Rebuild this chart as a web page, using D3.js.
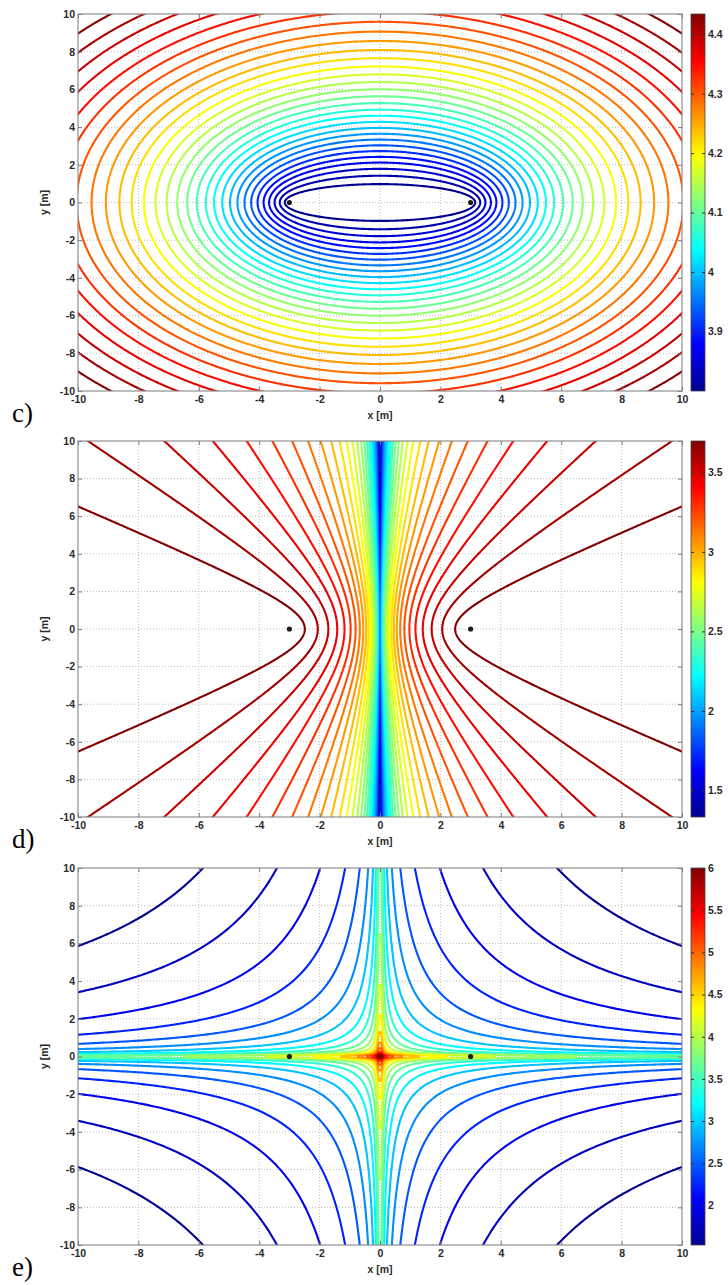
<!DOCTYPE html>
<html>
<head>
<meta charset="utf-8">
<script src="https://cdn.jsdelivr.net/npm/d3@7"></script>
<style>
  body { margin: 0; background: #fff; }
  text { font-family: "Liberation Sans", Arial, sans-serif; }
</style>
</head>
<body>
<div id="chart"></div>
<script>
var W = 728, H = 1285;

// sensor positions on the x axis [m]
var sensorX = [-3, 3];
var axisTicks = [-10, -8, -6, -4, -2, 0, 2, 4, 6, 8, 10];

// contour levels (colorbar units)
var levelsC = [3.800, 3.822, 3.844, 3.866, 3.887, 3.909, 3.931, 3.953, 3.975, 3.997,
               4.019, 4.041, 4.062, 4.084, 4.106, 4.128, 4.150, 4.172, 4.194, 4.216,
               4.237, 4.259, 4.281, 4.303, 4.325, 4.347, 4.369, 4.391, 4.412, 4.434];
var barTicksC = [3.9, 4, 4.1, 4.2, 4.3, 4.4];

var levelsD = [1.333, 1.415, 1.496, 1.578, 1.659, 1.741, 1.822, 1.904, 1.985, 2.067,
               2.148, 2.230, 2.311, 2.393, 2.474, 2.556, 2.637, 2.719, 2.800, 2.882,
               2.963, 3.045, 3.126, 3.208, 3.289, 3.371, 3.452, 3.534, 3.615, 3.697];
var barTicksD = [1.5, 2, 2.5, 3, 3.5];

var levelsE = [1.530, 1.765, 2.001, 2.236, 2.471, 2.707, 2.942, 3.177, 3.412, 3.648,
               3.883, 4.118, 4.354, 4.589, 4.824, 5.060, 5.295, 5.530, 5.765, 6.001];
var barTicksE = [2, 2.5, 3, 3.5, 4, 4.5, 5, 5.5, 6];

// measured quantity for each panel (log10 of path in mm)
function dist(px, py, sx) { return Math.hypot(px - sx, py); }
var fieldC = (px, py) => 3 + Math.log10(dist(px, py, sensorX[0]) + dist(px, py, sensorX[1]));
var fieldD = (px, py) => 3 + Math.log10(Math.abs(dist(px, py, sensorX[0]) - dist(px, py, sensorX[1])));
var fieldE = (px, py) => 3.298 - Math.log10(Math.abs(px * py));

var panels = [
  {label: 'c)', top: 14,  bottom: 391,  field: fieldC, levels: levelsC, barTicks: barTicksC, step: 0.05, pad: 0.5},
  {label: 'd)', top: 441, bottom: 817,  field: fieldD, levels: levelsD, barTicks: barTicksD, step: 0.05, pad: 0.5},
  {label: 'e)', top: 868, bottom: 1245, field: fieldE, levels: levelsE, barTicks: barTicksE, step: 0.08, pad: 0.48}
];

// matlab jet
var jet = d3.scaleLinear()
  .domain([0, 0.125, 0.375, 0.625, 0.875, 1])
  .range(['#00008f', '#0000ff', '#00ffff', '#ffff00', '#ff0000', '#800000'])
  .clamp(true);

var svg = d3.select('#chart')
  .append('svg')
  .attr('width', W)
  .attr('height', H);

svg.append('rect').attr('width', W).attr('height', H).attr('fill', '#fff');

var defs = svg.append('defs');
var grad = defs.append('linearGradient')
  .attr('id', 'jetGrad')
  .attr('x1', 0).attr('y1', 1).attr('x2', 0).attr('y2', 0);
grad.selectAll('stop')
  .data(jet.domain())
  .enter()
  .append('stop')
  .attr('offset', d => d)
  .attr('stop-color', d => jet(d));

var xScale = d3.scaleLinear().domain([-10, 10]).range([78, 682]);
var barX = 691, barW = 14;
var textColor = '#2a2a2a';

panels.forEach((p, idx) => {
  var yScale = d3.scaleLinear().domain([-10, 10]).range([p.bottom, p.top]);
  var g = svg.append('g');

  defs.append('clipPath')
    .attr('id', 'clip' + idx)
    .append('rect')
    .attr('x', xScale(-10)).attr('y', p.top)
    .attr('width', xScale(10) - xScale(-10))
    .attr('height', p.bottom - p.top);

  // dotted grid
  var inner = axisTicks.slice(1, -1);
  g.selectAll('.gx')
    .data(inner)
    .enter()
    .append('line')
    .attr('x1', d => xScale(d)).attr('x2', d => xScale(d))
    .attr('y1', p.top).attr('y2', p.bottom)
    .attr('stroke', '#bdbdbd')
    .attr('stroke-dasharray', '1,2');
  g.selectAll('.gy')
    .data(inner)
    .enter()
    .append('line')
    .attr('y1', d => yScale(d)).attr('y2', d => yScale(d))
    .attr('x1', xScale(-10)).attr('x2', xScale(10))
    .attr('stroke', '#bdbdbd')
    .attr('stroke-dasharray', '1,2');

  // sample the field on a grid a bit larger than the axes
  var lo = -10 - p.pad;
  var n = Math.round((20 + 2 * p.pad) / p.step);
  var values = new Float64Array(n * n);
  for (var j = 0; j < n; j++) {
    var gy = lo + (j + 0.5) * p.step;
    for (var i = 0; i < n; i++) {
      values[j * n + i] = p.field(lo + (i + 0.5) * p.step, gy);
    }
  }
  var contours = d3.contours().size([n, n]).thresholds(p.levels)(values);

  var proj = d3.geoTransform({
    point: function(cx, cy) {
      this.stream.point(xScale(lo + cx * p.step), yScale(lo + cy * p.step));
    }
  });
  var path = d3.geoPath(proj);
  var norm = d3.scaleLinear().domain(d3.extent(p.levels)).range([0, 1]);

  g.append('g')
    .attr('clip-path', 'url(#clip' + idx + ')')
    .selectAll('path')
    .data(contours)
    .enter()
    .append('path')
    .attr('d', path)
    .attr('fill', 'none')
    .attr('stroke', d => jet(norm(d.value)))
    .attr('stroke-width', 2.1)
    .attr('stroke-linejoin', 'round');

  // sensors
  g.selectAll('.sensor')
    .data(sensorX)
    .enter()
    .append('circle')
    .attr('cx', d => xScale(d))
    .attr('cy', yScale(0))
    .attr('r', 2.6)
    .attr('fill', '#1e1e1e');

  // axes
  var fmt = d => String(d);
  var bottomAxis = g.append('g')
    .attr('transform', `translate(0, ${p.bottom})`)
    .call(d3.axisBottom(xScale).tickValues(axisTicks).tickSize(-4).tickPadding(5).tickFormat(fmt));
  var leftAxis = g.append('g')
    .attr('transform', `translate(${xScale(-10)}, 0)`)
    .call(d3.axisLeft(yScale).tickValues(axisTicks).tickSize(-4).tickPadding(3).tickFormat(fmt));
  var topAxis = g.append('g')
    .attr('transform', `translate(0, ${p.top})`)
    .call(d3.axisTop(xScale).tickValues(axisTicks).tickSize(-4).tickFormat(''));
  var rightAxis = g.append('g')
    .attr('transform', `translate(${xScale(10)}, 0)`)
    .call(d3.axisRight(yScale).tickValues(axisTicks).tickSize(-4).tickFormat(''));

  [bottomAxis, leftAxis, topAxis, rightAxis].forEach(a => {
    a.select('.domain').remove();
    a.selectAll('line').attr('stroke', '#7a7a7a');
    a.selectAll('text').attr('fill', textColor).style('font-size', '10.5px').style('font-weight', 'bold');
  });

  g.append('rect')
    .attr('x', xScale(-10)).attr('y', p.top)
    .attr('width', xScale(10) - xScale(-10))
    .attr('height', p.bottom - p.top)
    .attr('fill', 'none')
    .attr('stroke', '#858585')
    .attr('stroke-width', 1.1);

  g.append('text')
    .attr('x', xScale(0))
    .attr('y', p.bottom + 28)
    .attr('text-anchor', 'middle')
    .attr('fill', textColor)
    .style('font-size', '10.5px')
    .style('font-weight', 'bold')
    .text('x [m]');

  g.append('text')
    .attr('transform', `translate(48, ${(p.top + p.bottom) / 2}) rotate(-90)`)
    .attr('text-anchor', 'middle')
    .attr('fill', textColor)
    .style('font-size', '10.5px')
    .style('font-weight', 'bold')
    .text('y [m]');

  g.append('text')
    .attr('x', 12)
    .attr('y', p.bottom + 31)
    .attr('fill', '#000')
    .style('font-family', '"Liberation Serif", "Times New Roman", serif')
    .style('font-size', '27px')
    .text(p.label);

  // colorbar
  var barScale = d3.scaleLinear().domain(d3.extent(p.levels)).range([p.bottom, p.top]);
  g.append('rect')
    .attr('x', barX).attr('y', p.top)
    .attr('width', barW).attr('height', p.bottom - p.top)
    .attr('fill', 'url(#jetGrad)')
    .attr('stroke', '#444')
    .attr('stroke-width', 0.8);

  var barAxis = g.append('g')
    .attr('transform', `translate(${barX + barW}, 0)`)
    .call(d3.axisRight(barScale).tickValues(p.barTicks).tickSize(-3).tickPadding(3).tickFormat(fmt));
  barAxis.select('.domain').remove();
  barAxis.selectAll('line').attr('stroke', '#333');
  barAxis.selectAll('text').attr('fill', textColor).style('font-size', '10.5px').style('font-weight', 'bold');

  var barAxisL = g.append('g')
    .attr('transform', `translate(${barX}, 0)`)
    .call(d3.axisLeft(barScale).tickValues(p.barTicks).tickSize(-3).tickFormat(''));
  barAxisL.select('.domain').remove();
  barAxisL.selectAll('line').attr('stroke', '#333');
});
</script>
</body>
</html>
